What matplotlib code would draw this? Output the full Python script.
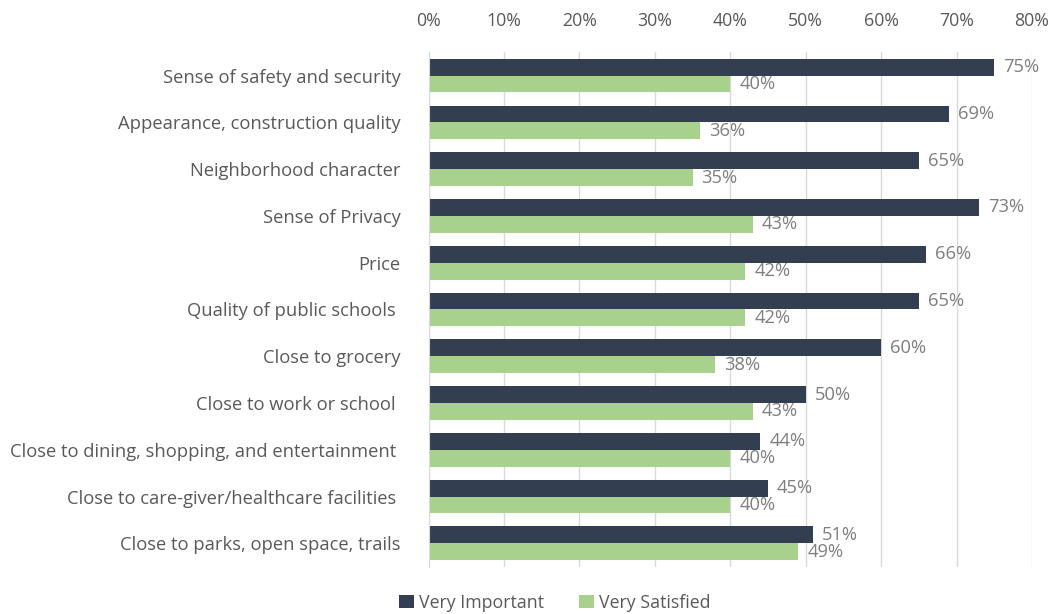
import matplotlib
matplotlib.use("Agg")
import matplotlib.pyplot as plt
import numpy as np

categories = ["Sense of safety and security", "Appearance, construction quality",
              "Neighborhood character", "Sense of Privacy", "Price",
              "Quality of public schools ", "Close to grocery", "Close to work or school ",
              "Close to dining, shopping, and entertainment ",
              "Close to care-giver/healthcare facilities ",
              "Close to parks, open space, trails"]
very_important = [75, 69, 65, 73, 66, 65, 60, 50, 44, 45, 51]
very_satisfied = [40, 36, 35, 43, 42, 42, 38, 43, 40, 40, 49]
ticks = [0, 10, 20, 30, 40, 50, 60, 70, 80]

dark = "#333f50"
green = "#a9d18e"
txt = "#595959"
lbl = "#7f7f7f"

plt.rcParams['font.family'] = ['Open Sans', 'DejaVu Sans']
fs = 12.8

fig = plt.figure(figsize=(10.53, 6.14), dpi=100)
ax = fig.add_axes([0.407, 0.077, 0.573, 0.838])

y = np.arange(len(categories))
h = 0.36
b1 = ax.barh(y - h / 2, very_important, height=h, color=dark, label="Very Important")
b2 = ax.barh(y + h / 2, very_satisfied, height=h, color=green, label="Very Satisfied")

for bars, vals in ((b1, very_important), (b2, very_satisfied)):
    for r, v in zip(bars, vals):
        ax.text(r.get_width() + 1.2, r.get_y() + r.get_height() / 2, f"{v}%",
                va="center", ha="left", fontsize=13.2, color=lbl)

ax.set_xlim(0, 80)
ax.set_ylim(len(categories) - 0.5, -0.5)
ax.set_xticks(ticks)
ax.set_xticklabels([f"{t}%" for t in ticks])
ax.xaxis.tick_top()
ax.set_yticks(y)
ax.set_yticklabels(categories)
ax.tick_params(axis="both", length=0, colors=txt, labelsize=fs)
ax.tick_params(axis="y", labelsize=13.2, pad=20)
ax.tick_params(axis="x", pad=16)
ax.grid(axis="x", color="#d9d9d9", linewidth=1)
ax.set_axisbelow(True)
for s in ["top", "right", "bottom"]:
    ax.spines[s].set_visible(False)
ax.spines["left"].set_color("#d9d9d9")

fig.legend(handles=[b1, b2], loc="lower center", bbox_to_anchor=(0.527, -0.022), ncol=2,
           frameon=False, fontsize=fs, handlelength=0.8, handleheight=0.8,
           handletextpad=0.3, columnspacing=2.0, labelcolor=txt)

fig.savefig("out.png", dpi=100)
